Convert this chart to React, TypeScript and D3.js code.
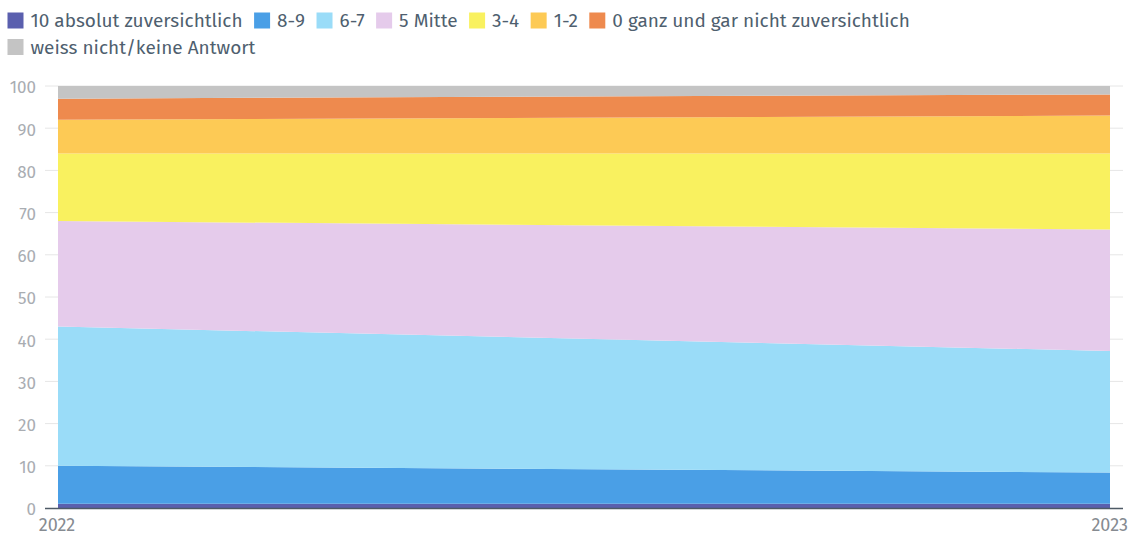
import { useEffect, useRef } from "react";
import * as d3 from "d3";

const years = ["2022", "2023"];
const seriesNames = [
  "10 absolut zuversichtlich",
  "8-9",
  "6-7",
  "5 Mitte",
  "3-4",
  "1-2",
  "0 ganz und gar nicht zuversichtlich",
  "weiss nicht/keine Antwort",
];
const values2022 = [1, 9, 33, 25, 16, 8, 5, 3];
const values2023 = [1, 7.4, 28.8, 28.8, 18, 9, 5, 2];
const colors = ["#5a5fae", "#4a9fe6", "#9adcf8", "#e5cbeb", "#f9f15f", "#fdca55", "#ee8a4e", "#c4c4c4"];
const yTicks = [0, 10, 20, 30, 40, 50, 60, 70, 80, 90, 100];

const W = 1130;
const H = 536;
const FONT = "'Fira Sans', Roboto, 'Open Sans', sans-serif";

export default function App() {
  const svgRef = useRef<SVGSVGElement | null>(null);

  useEffect(() => {
    if (!svgRef.current) return;
    const svg = d3.select(svgRef.current);
    svg.selectAll("*").remove();

    const plot = { left: 58, right: 1110, top: 86, bottom: 508 };

    const rows = years.map((yr, i) => {
      const vals = i === 0 ? values2022 : values2023;
      const r: any = { year: yr };
      seriesNames.forEach((s, k) => (r[s] = vals[k]));
      return r;
    });

    const x = d3.scalePoint<string>().domain(years).range([plot.left, plot.right]);
    const y = d3.scaleLinear().domain([0, 100]).range([plot.bottom, plot.top]);

    // grid + y labels
    const grid = svg.append("g");
    yTicks.forEach((t) => {
      if (t > 0) {
        grid.append("line")
          .attr("x1", 45).attr("x2", 1123)
          .attr("y1", y(t)).attr("y2", y(t))
          .attr("stroke", "#e6e6e6").attr("stroke-width", 1);
      }
      grid.append("text")
        .attr("x", 36).attr("y", y(t) + 1.5).attr("dy", "0.35em")
        .attr("text-anchor", "end")
        .style("font-family", FONT).style("font-size", "17px")
        .style("fill", "#a9adb2")
        .text(t);
    });

    const stack = d3.stack<any>().keys(seriesNames);
    const layers = stack(rows);
    const area = d3.area<any>()
      .x((d) => x(d.data.year) as number)
      .y0((d) => y(d[0]))
      .y1((d) => y(d[1]));

    svg.append("g").selectAll("path")
      .data(layers)
      .join("path")
      .attr("d", area as any)
      .attr("fill", (_d, i) => colors[i]);

    // bottom axis line
    svg.append("line")
      .attr("x1", 45).attr("x2", 1123)
      .attr("y1", plot.bottom + 0.5).attr("y2", plot.bottom + 0.5)
      .attr("stroke", "#4e5a66").attr("stroke-width", 1.5);

    years.forEach((yr, i) => {
      svg.append("text")
        .attr("x", i === 0 ? (x(yr) as number) - 1 : 1128)
        .attr("y", 531)
        .attr("text-anchor", i === 0 ? "middle" : "end")
        .style("font-family", FONT).style("font-size", "18px")
        .style("fill", "#868b91")
        .text(yr);
    });

    // legend
    const legend = svg.append("g");
    let lx = 7.5;
    seriesNames.forEach((s, i) => {
      const row = i === seriesNames.length - 1 ? 1 : 0;
      if (row === 1) lx = 7.5;
      const cy = row === 0 ? 20.5 : 47;
      legend.append("rect")
        .attr("x", lx).attr("y", cy - 8)
        .attr("width", 16).attr("height", 16)
        .attr("fill", colors[i]);
      const txt = legend.append("text")
        .attr("x", lx + 23).attr("y", cy).attr("dy", "0.35em")
        .style("font-family", FONT).style("font-size", "19px")
        .style("fill", "#4f5f6f")
        .text(s);
      const w = (txt.node() as SVGTextElement).getComputedTextLength();
      lx += 23 + w + 11.5;
    });
  }, []);

  return (
    <svg
      ref={svgRef}
      width={W}
      height={H}
      style={{ position: "absolute", left: 0, top: 0, background: "#fff" }}
    />
  );
}
